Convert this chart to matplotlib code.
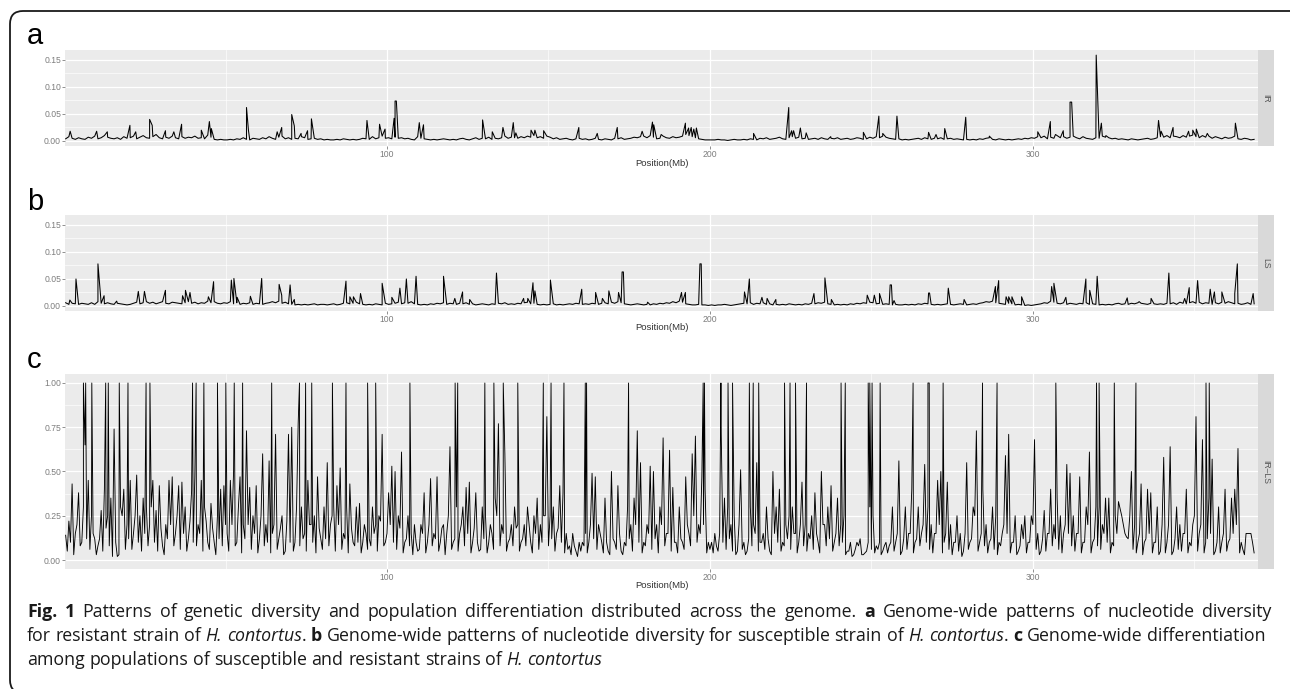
import re
import numpy as np
import matplotlib
matplotlib.use("Agg")
import matplotlib.pyplot as plt
from matplotlib.patches import FancyBboxPatch
from matplotlib.transforms import IdentityTransform

# ---------------- data ----------------
# Panel a (IR): background windows, 1-Mb steps, values in 1/1000
a_base = [
    4, 8, 5, 3, 6, 4, 3, 7, 5, 9, 4, 6, 10, 7, 5, 4, 6, 3, 8, 5,
    6, 9, 4, 7, 10, 6, 5, 8, 12, 6, 4, 7, 5, 9, 6, 4, 8, 5, 7, 6,
    9, 5, 6, 4, 11, 7, 3, 2, 3, 2, 2, 3, 2, 4, 3, 6, 3, 2, 5, 4,
    3, 6, 4, 8, 5, 3, 7, 9, 4, 6, 3, 5, 4, 8, 6, 3, 4, 5, 3, 4,
    2, 3, 2, 2, 3, 2, 4, 3, 2, 3, 2, 3, 5, 4, 3, 8, 4, 6, 9, 5,
    6, 4, 7, 5, 6, 4, 5, 3, 2, 8, 5, 4, 3, 2, 3, 2, 3, 4, 3, 2,
    3, 2, 4, 5, 3, 2, 4, 6, 3, 5, 4, 7, 3, 5, 4, 6, 9, 5, 7, 6,
    5, 8, 6, 9, 7, 10, 6, 8, 5, 9, 7, 4, 6, 3, 4, 5, 3, 2, 4, 5,
    3, 4, 2, 3, 5, 3, 2, 4, 3, 2, 5, 4, 6, 3, 4, 5, 7, 6, 8, 9,
    6, 10, 7, 4, 5, 9, 6, 5, 8, 6, 7, 9, 12, 10, 8, 6, 4, 3, 2, 2,
    2, 2, 3, 2, 2, 1, 2, 3, 2, 2, 3, 2, 4, 3, 2, 5, 4, 6, 3, 4,
    5, 7, 4, 3, 6, 8, 5, 7, 4, 5, 3, 4, 5, 3, 6, 4, 3, 5, 4, 6,
    3, 4, 5, 3, 4, 6, 5, 3, 4, 7, 5, 8, 6, 9, 7, 5, 4, 3, 4, 2,
    3, 2, 3, 4, 5, 3, 6, 4, 3, 5, 4, 6, 3, 4, 5, 3, 4, 3, 2, 3,
    2, 3, 2, 4, 3, 5, 6, 3, 2, 4, 3, 2, 3, 2, 3, 4, 3, 5, 4, 6,
    5, 8, 6, 9, 4, 7, 5, 10, 6, 8, 5, 7, 9, 6, 4, 8, 5, 4, 3, 6,
    5, 9, 7, 6, 4, 5, 3, 4, 3, 2, 4, 3, 2, 3, 4, 5, 3, 4, 6, 8,
    7, 10, 6, 9, 8, 6, 10, 7, 9, 11, 8, 6, 10, 7, 9, 5, 8, 6, 4, 7,
    5, 6, 9, 4, 3, 5, 4, 2, 3,
]
a_peak_mb = [
    1.9, 10.1, 13.4, 20.4, 22.2, 26.5, 27.3, 31.4, 34.0, 36.4, 42.5, 45.0, 45.6,
    56.5, 57.1, 66.0, 67.4, 70.5, 71.3, 73.4, 75.4, 76.6, 93.8, 97.7, 99.4,
    102.2, 102.5, 102.9, 110.0, 111.3, 129.6, 132.6, 135.9, 139.1, 139.9,
    144.6, 145.8, 148.5, 159.4, 165.1, 171.3, 179.0, 182.2, 182.6, 184.9,
    192.4, 193.4, 194.2, 195.0, 195.8, 213.5, 224.4, 225.3, 225.9, 228.0,
    229.8, 237.4, 247.5, 252.3, 253.5, 257.9, 267.7, 270.0, 272.7, 279.2,
    286.5, 301.5, 305.4, 307.0, 309.4, 311.5, 312.0, 319.6, 321.2, 322.6,
    338.9, 339.7, 343.4, 348.2, 349.5, 350.6, 354.0, 362.7,
]
a_peak_val = [
    0.018, 0.018, 0.017, 0.029, 0.017, 0.040, 0.029, 0.019, 0.017, 0.031, 0.020, 0.036, 0.023,
    0.062, 0.020, 0.017, 0.025, 0.049, 0.028, 0.014, 0.019, 0.041, 0.038, 0.031, 0.022,
    0.042, 0.074, 0.074, 0.034, 0.030, 0.039, 0.017, 0.025, 0.034, 0.015,
    0.020, 0.020, 0.019, 0.025, 0.014, 0.025, 0.018, 0.035, 0.030, 0.012,
    0.033, 0.024, 0.025, 0.022, 0.024, 0.014, 0.062, 0.019, 0.019, 0.024,
    0.015, 0.008, 0.016, 0.046, 0.014, 0.046, 0.016, 0.012, 0.023, 0.044,
    0.009, 0.017, 0.036, 0.012, 0.019, 0.072, 0.072, 0.159, 0.033, 0.010,
    0.038, 0.018, 0.025, 0.018, 0.020, 0.022, 0.014, 0.033,
]

# Panel b (LS): background windows, 1-Mb steps, values in 1/1000
b_base = [
    6, 3, 5, 4, 3, 5, 4, 3, 6, 3, 8, 5, 4, 6, 4, 3, 5, 4, 3, 2,
    3, 5, 7, 4, 6, 8, 5, 7, 4, 6, 8, 5, 4, 7, 6, 5, 4, 6, 8, 5,
    7, 4, 6, 5, 9, 6, 8, 5, 4, 6, 5, 8, 4, 6, 3, 5, 4, 6, 3, 5,
    4, 3, 5, 6, 8, 6, 9, 5, 7, 4, 3, 2, 3, 2, 3, 2, 3, 4, 2, 3,
    3, 2, 3, 4, 2, 3, 5, 6, 4, 5, 7, 4, 3, 2, 3, 2, 4, 3, 2, 5,
    3, 4, 5, 7, 4, 6, 5, 8, 4, 3, 2, 3, 2, 4, 3, 5, 4, 6, 3, 5,
    4, 3, 5, 4, 6, 3, 4, 2, 3, 4, 3, 2, 4, 3, 5, 4, 6, 3, 4, 3,
    5, 4, 6, 7, 4, 5, 3, 2, 3, 2, 3, 4, 2, 3, 2, 3, 4, 3, 5, 4,
    3, 4, 3, 5, 4, 3, 5, 6, 4, 7, 5, 8, 6, 4, 3, 2, 3, 4, 3, 2,
    3, 2, 4, 3, 5, 4, 6, 5, 8, 6, 9, 7, 4, 3, 2, 2, 3, 2, 2, 1,
    2, 1, 2, 2, 3, 2, 1, 2, 3, 4, 5, 4, 6, 3, 5, 4, 6, 3, 4, 2,
    3, 2, 3, 2, 4, 3, 2, 3, 2, 4, 3, 5, 4, 6, 5, 7, 4, 3, 2, 3,
    2, 3, 2, 4, 3, 5, 4, 6, 5, 7, 6, 4, 5, 3, 4, 3, 2, 3, 2, 2,
    3, 2, 3, 2, 4, 3, 5, 4, 3, 2, 3, 2, 3, 4, 3, 2, 3, 4, 3, 2,
    3, 4, 3, 5, 6, 8, 7, 9, 6, 5, 4, 3, 5, 4, 2, 3, 2, 1, 2, 1,
    2, 3, 4, 6, 5, 9, 7, 5, 4, 6, 3, 5, 4, 3, 5, 4, 6, 3, 4, 3,
    2, 3, 2, 3, 2, 4, 5, 3, 4, 3, 5, 4, 6, 5, 4, 3, 5, 4, 3, 4,
    3, 5, 4, 6, 3, 7, 5, 4, 6, 8, 5, 7, 4, 6, 5, 3, 6, 4, 7, 5,
    8, 6, 4, 5, 3, 4, 6, 3, 4,
]
b_peak_mb = [
    1.8, 3.7, 10.5, 12.4, 16.3, 23.0, 24.9, 31.4, 36.7, 37.6, 39.0, 44.7, 46.3,
    51.8, 52.6, 53.6, 57.7, 61.2, 66.6, 67.4, 70.0, 71.3, 87.3, 88.5, 89.6,
    91.8, 98.5, 101.5, 104.0, 106.0, 109.0, 117.5, 121.0, 123.4, 125.6,
    133.9, 142.3, 143.6, 145.2, 145.8, 150.6, 160.3, 164.6, 166.7, 168.7,
    171.7, 172.8, 173.2, 180.7, 191.2, 192.4, 196.9, 197.3, 210.7, 212.2,
    216.1, 217.7, 220.4, 232.2, 235.6, 237.6, 248.7, 250.9, 252.5, 255.8,
    256.2, 257.0, 267.7, 268.0, 273.8, 278.7, 288.4, 289.4, 291.7, 292.5,
    293.5, 296.5, 305.8, 306.5, 310.2, 316.4, 317.6, 319.9, 329.2, 332.9,
    336.6, 342.1, 347.0, 348.4, 351.0, 354.9, 356.2, 358.5, 362.5, 363.3, 368.2,
]
b_peak_val = [
    0.011, 0.050, 0.078, 0.019, 0.009, 0.027, 0.027, 0.029, 0.019, 0.029, 0.025, 0.017, 0.045,
    0.048, 0.051, 0.016, 0.018, 0.051, 0.040, 0.020, 0.039, 0.012, 0.046, 0.017, 0.017,
    0.023, 0.042, 0.016, 0.033, 0.050, 0.055, 0.055, 0.014, 0.026, 0.012,
    0.061, 0.014, 0.014, 0.043, 0.028, 0.048, 0.031, 0.025, 0.014, 0.028,
    0.025, 0.063, 0.063, 0.007, 0.025, 0.025, 0.078, 0.078, 0.026, 0.050,
    0.016, 0.014, 0.012, 0.023, 0.052, 0.012, 0.020, 0.020, 0.023, 0.039,
    0.039, 0.010, 0.024, 0.024, 0.033, 0.012, 0.036, 0.047, 0.017, 0.017,
    0.017, 0.017, 0.036, 0.042, 0.016, 0.050, 0.029, 0.055, 0.015, 0.008,
    0.014, 0.061, 0.014, 0.034, 0.047, 0.031, 0.026, 0.026, 0.023, 0.078, 0.023,
]

# Panel c (IR-LS): windows centred on half-Mb (values in 1/100)
c_base = [
    14, 22, 43, 15, 38, 10, 65, 45, 25, 12,
    8, 28, 40, 25, 35, 74, 2, 30, 40, 20,
    45, 15, 48, 25, 35, 30, 20, 45, 28, 42,
    8, 20, 45, 47, 15, 42, 44, 30, 12, 39,
    47, 20, 45, 30, 10, 32, 10, 25, 40, 42,
    15, 45, 50, 10, 47, 20, 73, 41, 25, 42,
    12, 60, 20, 56, 15, 71, 12, 25, 5, 71,
    75, 10, 77, 30, 15, 45, 20, 25, 47, 12,
    30, 55, 20, 30, 42, 52, 15, 30, 43, 10,
    30, 32, 10, 15, 12, 30, 20, 25, 71, 10,
    38, 53, 50, 25, 61, 10, 25, 15, 20, 5,
    20, 38, 10, 46, 15, 47, 10, 20, 15, 64,
    10, 30, 15, 30, 41, 44, 10, 38, 5, 30,
    25, 10, 15, 35, 77, 20, 60, 10, 20, 30,
    20, 10, 20, 30, 10, 25, 35, 20, 25, 81,
    25, 30, 15, 42, 38, 15, 8, 15, 5, 10,
    10, 15, 10, 49, 47, 20, 10, 35, 5, 50,
    10, 42, 5, 10, 30, 20, 35, 73, 55, 10,
    20, 53, 50, 20, 30, 69, 15, 62, 41, 10,
    30, 10, 47, 15, 60, 70, 20, 47, 40, 10,
    10, 15, 5, 71, 35, 30, 20, 25, 5, 51,
    10, 5, 30, 20, 55, 10, 15, 30, 5, 50,
    30, 40, 10, 20, 25, 30, 15, 10, 44, 20,
    15, 25, 38, 10, 50, 20, 30, 42, 10, 35,
    20, 25, 5, 10, 3, 10, 12, 3, 5, 30,
    25, 8, 10, 5, 10, 8, 30, 10, 56, 5,
    30, 15, 40, 10, 30, 15, 54, 30, 20, 15,
    45, 50, 10, 44, 20, 10, 25, 15, 5, 55,
    10, 30, 73, 10, 40, 20, 10, 30, 25, 10,
    15, 59, 71, 10, 25, 5, 20, 25, 10, 25,
    68, 15, 5, 28, 15, 40, 20, 35, 25, 15,
    54, 49, 25, 15, 47, 10, 30, 61, 10, 30,
    30, 20, 35, 35, 10, 25, 33, 25, 15, 12,
    50, 20, 10, 43, 10, 40, 38, 10, 30, 5,
    58, 10, 64, 5, 30, 20, 15, 40, 10, 20,
    81, 15, 68, 10, 35, 57, 5, 30, 10, 40,
    10, 35, 40, 63, 10, 3, 15, 15, 4,
]
# Panel c: windows centred on whole Mb (the low troughs between), values in 1/100
c_mid = [
    5, 10, 3, 20, 8, 30, 12, 6, 15, 3,
    12, 5, 18, 8, 2, 10, 3, 25, 6, 12,
    6, 25, 10, 5, 15, 8, 30, 10, 5, 18,
    3, 12, 20, 8, 25, 6, 15, 5, 22, 10,
    8, 15, 5, 22, 6, 18, 3, 12, 8, 20,
    5, 20, 8, 30, 4, 12, 20, 6, 15, 4,
    25, 8, 10, 4, 20, 6, 18, 3, 22, 10,
    5, 30, 8, 12, 5, 20, 10, 4, 18, 6,
    12, 8, 25, 5, 20, 6, 12, 4, 18, 8,
    10, 4, 20, 6, 8, 15, 5, 22, 8, 15,
    20, 10, 6, 18, 4, 12, 8, 3, 10, 6,
    15, 4, 20, 8, 12, 5, 18, 3, 25, 6,
    12, 5, 20, 8, 15, 4, 18, 10, 6, 12,
    4, 20, 6, 25, 8, 15, 5, 12, 8, 18,
    5, 12, 8, 20, 4, 15, 6, 10, 25, 8,
    12, 5, 18, 10, 4, 6, 3, 8, 2, 5,
    8, 4, 20, 12, 6, 15, 4, 10, 3, 12,
    6, 15, 3, 8, 12, 5, 20, 10, 4, 8,
    15, 6, 12, 4, 20, 8, 15, 5, 10, 4,
    12, 6, 20, 8, 25, 10, 15, 20, 4, 6,
    4, 8, 15, 10, 6, 12, 5, 3, 20, 6,
    3, 12, 8, 15, 5, 10, 6, 12, 3, 15,
    10, 5, 8, 12, 6, 15, 4, 20, 8, 5,
    12, 6, 15, 4, 20, 8, 12, 5, 15, 8,
    10, 3, 5, 2, 6, 8, 3, 4, 10, 6,
    4, 6, 3, 8, 4, 10, 5, 15, 3, 12,
    6, 15, 4, 12, 8, 20, 10, 6, 4, 15,
    20, 4, 15, 6, 3, 10, 5, 2, 15, 6,
    12, 25, 5, 15, 8, 4, 12, 6, 3, 8,
    20, 15, 4, 10, 3, 8, 12, 4, 10, 20,
    6, 3, 12, 5, 15, 8, 12, 6, 4, 20,
    15, 8, 5, 15, 4, 10, 20, 4, 12, 8,
    6, 15, 10, 4, 8, 15, 29, 20, 13, 25,
    6, 4, 15, 3, 12, 15, 4, 10, 3, 20,
    4, 20, 3, 12, 6, 5, 15, 4, 8, 25,
    5, 20, 4, 12, 15, 3, 10, 4, 15, 5,
    12, 15, 20, 4, 6, 15, 15, 10,
]
c_peak_mb = [
    6.0, 6.7, 8.6, 12.9, 13.7, 17.1, 19.8, 25.4, 26.6, 39.8, 40.9, 43.3, 47.5,
    50.1, 52.7, 55.3, 64.3, 72.9, 74.8, 76.7, 83.1, 87.3, 94.0, 96.5, 107.1,
    121.1, 121.9, 130.3, 133.1, 136.0, 140.5, 148.4, 150.8, 154.8, 161.4, 161.8,
    174.8, 197.9, 198.3, 203.4, 205.6, 207.0, 212.2, 213.4, 215.1, 223.1, 224.8,
    226.5, 229.9, 240.6, 241.9, 249.0, 249.5, 250.2, 252.7, 262.9, 267.5, 267.9,
    272.2, 284.4, 288.9, 307.1, 319.7, 320.5, 325.2, 331.9, 353.6, 354.6,
]
c_peak_val = [
    1.0, 1.0, 1.0, 1.0, 1.0, 1.0, 1.0, 1.0, 1.0, 1.0, 1.0, 1.0, 1.0,
    1.0, 1.0, 1.0, 1.0, 1.0, 1.0, 1.0, 1.0, 1.0, 1.0, 1.0, 1.0,
    1.0, 1.0, 1.0, 1.0, 1.0, 1.0, 1.0, 1.0, 1.0, 1.0, 1.0,
    1.0, 1.0, 1.0, 1.0, 1.0, 1.0, 1.0, 1.0, 1.0, 1.0, 1.0,
    1.0, 1.0, 1.0, 1.0, 1.0, 1.0, 1.0, 1.0, 1.0, 1.0, 1.0,
    1.0, 1.0, 1.0, 1.0, 1.0, 1.0, 1.0, 1.0, 1.0, 1.0,
]

x_major = [100, 200, 300]
x_minor = [50, 150, 250, 350]
x_labels = ["100", "200", "300"]
ab_yticks = [0.00, 0.05, 0.10, 0.15]
ab_yminor = [0.025, 0.075, 0.125]
ab_ylabels = ["0.00", "0.05", "0.10", "0.15"]
c_yticks = [0.00, 0.25, 0.50, 0.75, 1.00]
c_yminor = [0.125, 0.375, 0.625, 0.875]
c_ylabels = ["0.00", "0.25", "0.50", "0.75", "1.00"]
strip_labels = ["IR", "LS", "IR\u2013LS"]
panel_letters = ["a", "b", "c"]
x_title = "Position(Mb)"

caption_lines = [
    "**Fig.** **1** Patterns of genetic diversity and population differentiation distributed "
    "across the genome. **a** Genome-wide patterns of nucleotide diversity",
    "for resistant strain of _H._ _contortus_. **b** Genome-wide patterns of nucleotide diversity "
    "for susceptible strain of _H._ _contortus_. **c** Genome-wide differentiation",
    "among populations of susceptible and resistant strains of _H._ _contortus_",
]

# ---------------- figure ----------------
W, H = 1290, 689
fig = plt.figure(figsize=(W / 100, H / 100), dpi=100)
fig.patch.set_facecolor("white")


def fx(x):
    return x / W


def fy(y):
    return 1 - y / H


TICK_FONT = "Liberation Sans"
TICK_COLOR = "#7d7d7d"
PANEL_BG = "#EBEBEB"
L_PX, R_PX, STRIP_R = 65, 1258, 1274
XMIN, XMAX = 0.3, 369.7


def build(sets):
    xs, ys = [], []
    for pos, val in sets:
        xs.append(np.asarray(pos, float))
        ys.append(np.asarray(val, float))
    x = np.concatenate(xs)
    y = np.concatenate(ys)
    o = np.argsort(x, kind="stable")
    return x[o], y[o]


def panel(top, bottom, x, y, ylim, ymajor, yminor, ylabels, strip_txt, letter, letter_base, lw):
    ax = fig.add_axes([fx(L_PX), fy(bottom), fx(R_PX - L_PX), (bottom - top) / H])
    ax.set_facecolor(PANEL_BG)
    ax.set_xlim(XMIN, XMAX)
    ax.set_ylim(*ylim)
    for v in yminor:
        ax.axhline(v, color="white", lw=0.45, zorder=0.5)
    for v in ymajor:
        ax.axhline(v, color="white", lw=0.9, zorder=0.6)
    for v in x_minor:
        ax.axvline(v, color="white", lw=0.45, zorder=0.5)
    for v in x_major:
        ax.axvline(v, color="white", lw=0.9, zorder=0.6)
    ax.plot(x, y, color="black", lw=lw, zorder=2)
    for s in ax.spines.values():
        s.set_visible(False)
    ax.set_yticks(ymajor)
    ax.set_yticklabels(ylabels)
    ax.set_xticks(x_major)
    ax.set_xticklabels(x_labels)
    ax.tick_params(length=2.0, width=0.6, color=TICK_COLOR, labelcolor=TICK_COLOR,
                   labelsize=6.2, pad=0.8)
    for lab in ax.get_xticklabels() + ax.get_yticklabels():
        lab.set_fontfamily(TICK_FONT)
    sx = fig.add_axes([fx(R_PX), fy(bottom), fx(STRIP_R - R_PX), (bottom - top) / H])
    sx.set_facecolor("#D9D9D9")
    sx.set_xticks([])
    sx.set_yticks([])
    for s in sx.spines.values():
        s.set_visible(False)
    sx.text(0.5, 0.5, strip_txt, rotation=-90, ha="center", va="center", fontsize=6.2,
            color="#555555", family=TICK_FONT, transform=sx.transAxes)
    fig.text(fx((L_PX + R_PX) / 2), fy(bottom + 17), x_title, ha="center", va="center",
             fontsize=6.8, color="#333333", family=TICK_FONT)
    fig.text(fx(27), fy(letter_base), letter, fontsize=21, family=TICK_FONT,
             va="baseline", ha="left", color="black")
    return ax


ab_ylim = (-0.0093, 0.1685)
c_ylim = (-0.0508, 1.0508)

xa, ya = build([(np.arange(len(a_base)) + 0.5, np.array(a_base) * 0.001),
                (a_peak_mb, a_peak_val)])
xb, yb = build([(np.arange(len(b_base)) + 0.5, np.array(b_base) * 0.001),
                (b_peak_mb, b_peak_val)])
xc, yc = build([(np.arange(len(c_base)) + 0.5, np.array(c_base) * 0.01),
                (np.arange(len(c_mid)) + 1.0, np.array(c_mid) * 0.01),
                (c_peak_mb, c_peak_val)])

panel(50, 146, xa, ya, ab_ylim, ab_yticks, ab_yminor, ab_ylabels, strip_labels[0], panel_letters[0], 44, 0.75)
panel(215, 311, xb, yb, ab_ylim, ab_yticks, ab_yminor, ab_ylabels, strip_labels[1], panel_letters[1], 210, 0.75)
panel(374, 569, xc, yc, c_ylim, c_yticks, c_yminor, c_ylabels, strip_labels[2], panel_letters[2], 368, 0.65)

# rounded border (its right and bottom sides fall outside the canvas)
box = FancyBboxPatch((10, -4), 1296, H - 11 + 4, boxstyle="round,pad=0,rounding_size=13",
                     transform=IdentityTransform(), facecolor="none", edgecolor="#1a1a1a",
                     linewidth=1.3, zorder=10)
fig.patches.append(box)

# ---------------- caption ----------------
CAP_FONT = "Open Sans"
renderer = fig.canvas.get_renderer()


def parse(line):
    words = []
    for tok in line.split(" "):
        runs = []
        for b, i, n in re.findall(r"\*\*(.+?)\*\*|_(.+?)_|([^*_]+)", tok):
            if b:
                runs.append((b, "b"))
            elif i:
                runs.append((i, "i"))
            else:
                runs.append((n, "n"))
        words.append(runs)
    return words


def props(style, size):
    return dict(fontsize=size, family=CAP_FONT,
                weight="bold" if style == "b" else "normal",
                style="italic" if style == "i" else "normal")


def width(txt, style, size):
    t = fig.text(0, 0, txt, **props(style, size))
    w = t.get_window_extent(renderer).width
    t.remove()
    return w


def line_natural(words, size, space):
    ws = [sum(width(t, s, size) for t, s in w) for w in words]
    return ws, sum(ws) + space * (len(words) - 1)


parsed = [parse(l) for l in caption_lines]
cap_left = 27
cap_base = [617, 641, 665]
cap_right = [1271, 1263, None]
s0 = 12.0
sp0 = width("a a", "n", s0) - width("aa", "n", s0)
fits = []
for words, right in zip(parsed[:2], cap_right[:2]):
    _, nat = line_natural(words, s0, sp0)
    fits.append(s0 * (right - cap_left) / nat)
CAP_SIZE = min(fits)
space = width("a a", "n", CAP_SIZE) - width("aa", "n", CAP_SIZE)

for words, yb_, right in zip(parsed, cap_base, cap_right):
    ws, nat = line_natural(words, CAP_SIZE, space)
    gap = space
    if right is not None:
        gap = max(space, (right - cap_left - sum(ws)) / (len(words) - 1))
    x = float(cap_left)
    for w, wlen in zip(words, ws):
        xx = x
        for t, s in w:
            fig.text(fx(xx), fy(yb_), t, va="baseline", ha="left", color="#1a1a1a",
                     **props(s, CAP_SIZE))
            xx += width(t, s, CAP_SIZE)
        x += wlen + gap

fig.savefig("out.png", dpi=100, facecolor="white")
